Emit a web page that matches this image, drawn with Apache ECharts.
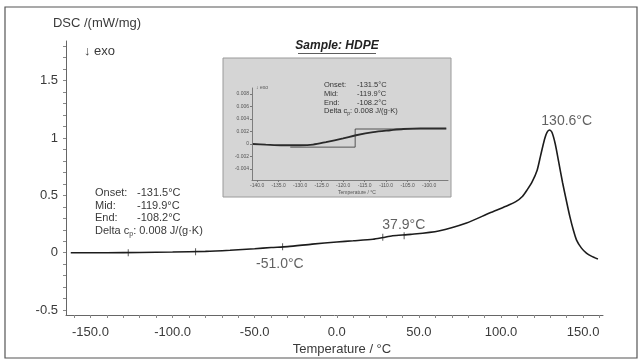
<!DOCTYPE html>
<html>
<head>
<meta charset="utf-8">
<script src="https://cdn.jsdelivr.net/npm/echarts@6/dist/echarts.min.js"></script>
<style>
  html, body { margin: 0; padding: 0; background: #fff; }
  #chart { width: 641px; height: 363px; }
</style>
</head>
<body>
<div id="chart"></div>
<script>
// main DSC curve (temperature °C, DSC mW/mg)
const temps = [-162, -140, -120, -100, -80, -65, -50, -40, -30, -15, 0, 10, 22, 28, 34, 45, 62, 79, 93, 103, 109, 113, 116, 119, 122, 124, 126.5, 128, 129.5, 131, 133, 135, 137.5, 140, 142, 144, 146, 149, 152, 155, 159];
const dsc = [0, 0, 0.002, 0.006, 0.012, 0.022, 0.035, 0.045, 0.053, 0.075, 0.094, 0.104, 0.117, 0.132, 0.148, 0.160, 0.19, 0.259, 0.346, 0.405, 0.445, 0.49, 0.55, 0.62, 0.72, 0.84, 0.99, 1.05, 1.07, 1.05, 0.95, 0.80, 0.61, 0.44, 0.31, 0.2, 0.11, 0.04, -0.003, -0.03, -0.055];

// small tick marks drawn on the curve
const markTemps = [-127, -86, -33, 28, 41];
const markDsc = [0.0, 0.008, 0.052, 0.134, 0.148];

// peak / step labels
const peakTexts = ['-51.0°C', '37.9°C', '130.6°C'];
const peakTemps = [-34.7, 40.8, 140];
const peakDsc = [-0.099, 0.242, 1.149];

const xLabels = [-150, -100, -50, 0, 50, 100, 150];
const yLabels = [-0.5, 0, 0.5, 1, 1.5];

// inset: zoom on the glass transition
const insetTemps = [-141, -138, -134, -130, -127, -124, -120, -117, -113, -109, -106, -102, -96];
const insetDsc = [0.0, -0.0001, -0.0002, -0.0002, -0.0001, 0.0003, 0.0009, 0.0014, 0.0019, 0.0022, 0.0024, 0.0025, 0.0025];
const stepTemps = [-132.3, -117.2, -117.2, -96];
const stepDsc = [-0.0005, -0.0005, 0.0024, 0.0024];
const insetXLabels = [-140, -135, -130, -125, -120, -115, -110, -105, -100];
const insetYLabels = [-0.004, -0.002, 0, 0.002, 0.004, 0.006, 0.008];

const resultKeys = ['Onset:', 'Mid:', 'End:'];
const resultVals = ['-131.5°C', '-119.9°C', '-108.2°C'];
const deltaCp = '0.008 J/(g·K)';

const FONT = '"Liberation Sans", Arial, sans-serif';
const TXT = '#3a3a3a';

const xTicks = [];
for (let t = -160; t <= 160; t += 10) xTicks.push(t);
const yTicks = [];
for (let i = -5; i <= 18; i++) yTicks.push(+(i / 10).toFixed(1));

const chart = echarts.init(document.getElementById('chart'), null, { renderer: 'canvas' });

const graphics = [
  { type: 'rect', z: 1, shape: { x: 223, y: 58, width: 228, height: 139 },
    style: { fill: '#d5d5d5', stroke: '#9a9a9a', lineWidth: 1 } },
  { type: 'text', x: 337, y: 46, z: 20,
    style: { text: 'Sample: HDPE', font: 'italic bold 12px ' + FONT, fill: '#222', align: 'center', verticalAlign: 'middle' } },
  { type: 'line', z: 20, shape: { x1: 298, y1: 53.5, x2: 376, y2: 53.5 }, style: { stroke: '#333', lineWidth: 0.8 } },
  { type: 'text', x: 97, y: 23, z: 20,
    style: { text: 'DSC /(mW/mg)', font: '13px ' + FONT, fill: TXT, align: 'center', verticalAlign: 'middle' } },
  { type: 'text', x: 84, y: 51, z: 20,
    style: { text: '↓ exo', font: '13px ' + FONT, fill: TXT, verticalAlign: 'middle' } },
  { type: 'text', x: 342, y: 349, z: 20,
    style: { text: 'Temperature / °C', font: '13px ' + FONT, fill: TXT, align: 'center', verticalAlign: 'middle' } },
  // inset texts
  { type: 'text', x: 256, y: 88, z: 20,
    style: { text: '↓ exo', font: '5px ' + FONT, fill: '#555', verticalAlign: 'middle' } },
  { type: 'text', x: 357, y: 193, z: 20,
    style: { text: 'Temperature / °C', font: '5px ' + FONT, fill: '#555', align: 'center', verticalAlign: 'middle' } },
  // white cover so the right end looks cut like the original
  { type: 'rect', z: 90, shape: { x: 604, y: 300, width: 32, height: 57 }, style: { fill: '#fff' } },
  // outer frame
  { type: 'rect', z: 100, shape: { x: 5, y: 7, width: 632, height: 351 },
    style: { fill: 'none', stroke: '#555', lineWidth: 1.2 } }
];

resultKeys.forEach((k, i) => {
  graphics.push({ type: 'text', x: 95, y: 193 + i * 12.7, z: 20,
    style: { text: k, font: '11px ' + FONT, fill: TXT, verticalAlign: 'middle' } });
  graphics.push({ type: 'text', x: 137, y: 193 + i * 12.7, z: 20,
    style: { text: resultVals[i], font: '11px ' + FONT, fill: TXT, verticalAlign: 'middle' } });
  graphics.push({ type: 'text', x: 324, y: 85 + i * 8.8, z: 20,
    style: { text: k, font: '7.5px ' + FONT, fill: '#333', verticalAlign: 'middle' } });
  graphics.push({ type: 'text', x: 357, y: 85 + i * 8.8, z: 20,
    style: { text: resultVals[i], font: '7.5px ' + FONT, fill: '#333', verticalAlign: 'middle' } });
});
graphics.push({ type: 'text', x: 95, y: 231, z: 20,
  style: { text: '{a|Delta c}{s|p}{a|: ' + deltaCp + '}', verticalAlign: 'middle',
    rich: { a: { font: '11px ' + FONT, fill: TXT, lineHeight: 14, verticalAlign: 'middle' },
            s: { font: '7px ' + FONT, fill: TXT, lineHeight: 14, verticalAlign: 'bottom' } } } });
graphics.push({ type: 'text', x: 324, y: 111.4, z: 20,
  style: { text: '{a|Delta c}{s|p}{a|: ' + deltaCp + '}', verticalAlign: 'middle',
    rich: { a: { font: '7.5px ' + FONT, fill: '#333', lineHeight: 9, verticalAlign: 'middle' },
            s: { font: '5px ' + FONT, fill: '#333', lineHeight: 9, verticalAlign: 'bottom' } } } });

chart.setOption({
  animation: false,
  backgroundColor: '#fff',
  grid: [
    { left: 66, right: 38, top: 41, bottom: 48 },
    { left: 252, width: 196, top: 88, height: 92 }
  ],
  xAxis: [
    {
      gridIndex: 0, type: 'value', min: -164.9, max: 162.1,
      splitLine: { show: false },
      axisLine: { onZero: false, lineStyle: { color: '#666', width: 1 } },
      axisTick: { customValues: xTicks, length: 3, lineStyle: { color: '#888' } },
      axisLabel: { customValues: xLabels, formatter: v => v.toFixed(1), color: TXT,
        fontFamily: FONT, fontSize: 13, margin: 11 }
    },
    {
      gridIndex: 1, type: 'value', min: -141.2, max: -95.6, z: 10,
      splitLine: { show: false },
      axisLine: { onZero: false, lineStyle: { color: '#666', width: 0.8 } },
      axisTick: { customValues: insetXLabels, length: 2, lineStyle: { color: '#777' } },
      axisLabel: { customValues: insetXLabels, formatter: v => v.toFixed(1), color: '#555',
        fontFamily: FONT, fontSize: 5, margin: 3 }
    }
  ],
  yAxis: [
    {
      gridIndex: 0, type: 'value', min: -0.543, max: 1.846,
      splitLine: { show: false },
      axisLine: { show: true, onZero: false, lineStyle: { color: '#666', width: 1 } },
      axisTick: { customValues: yTicks, length: 3, lineStyle: { color: '#888' } },
      axisLabel: { customValues: yLabels, formatter: v => String(v), color: TXT,
        fontFamily: FONT, fontSize: 13, margin: 8 }
    },
    {
      gridIndex: 1, type: 'value', min: -0.00576, max: 0.00896, z: 10,
      splitLine: { show: false },
      axisLine: { show: true, onZero: false, lineStyle: { color: '#666', width: 0.8 } },
      axisTick: { customValues: insetYLabels, length: 2, lineStyle: { color: '#777' } },
      axisLabel: { customValues: insetYLabels, formatter: v => String(+v.toFixed(3)), color: '#555',
        fontFamily: FONT, fontSize: 5, margin: 3 }
    }
  ],
  graphic: graphics,
  series: [
    {
      type: 'line', xAxisIndex: 0, yAxisIndex: 0,
      data: temps.map((t, i) => [t, dsc[i]]),
      showSymbol: false, smooth: 0.25,
      lineStyle: { color: '#1c1c1c', width: 1.6 }
    },
    {
      type: 'scatter', xAxisIndex: 0, yAxisIndex: 0,
      data: markTemps.map((t, i) => [t, markDsc[i]]),
      symbol: 'rect', symbolSize: [1, 7],
      itemStyle: { color: '#333' }
    },
    {
      type: 'scatter', xAxisIndex: 0, yAxisIndex: 0,
      data: peakTemps.map((t, i) => ({ value: [t, peakDsc[i]], name: peakTexts[i] })),
      symbolSize: 0,
      label: { show: true, position: 'inside', formatter: p => p.name,
        fontFamily: FONT, fontSize: 14, color: TXT }
    },
    {
      type: 'line', xAxisIndex: 1, yAxisIndex: 1, z: 11,
      data: insetTemps.map((t, i) => [t, insetDsc[i]]),
      showSymbol: false, smooth: 0.3,
      lineStyle: { color: '#2a2a2a', width: 1.8 }
    },
    {
      type: 'line', xAxisIndex: 1, yAxisIndex: 1, z: 11,
      data: stepTemps.map((t, i) => [t, stepDsc[i]]),
      showSymbol: false,
      lineStyle: { color: '#333', width: 0.8 }
    }
  ]
});
</script>
</body>
</html>
